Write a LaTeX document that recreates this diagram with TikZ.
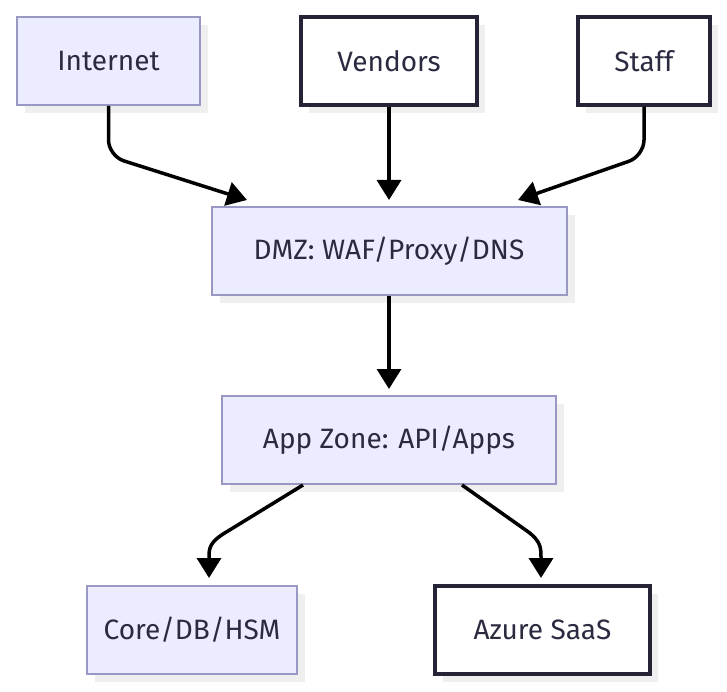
\documentclass[tikz,border=0pt]{standalone}
\usepackage{fontspec}
\setmainfont{Fira Sans}
\usetikzlibrary{arrows.meta,shadows}
\definecolor{lightfill}{HTML}{ECECFF}
\definecolor{lightstroke}{HTML}{9898C2}
\definecolor{darkstroke}{HTML}{242436}
\definecolor{shadowc}{HTML}{EFEFEF}
\definecolor{txtc}{HTML}{2A2A40}
\tikzset{
  basebox/.style={rectangle, inner sep=0pt, text=txtc, font=\fontsize{28}{33}\selectfont,
    drop shadow={shadow xshift=8pt, shadow yshift=-8pt, fill=shadowc, opacity=1}},
  lightbox/.style={basebox, draw=lightstroke, fill=lightfill, line width=2pt},
  darkbox/.style={basebox, draw=darkstroke, fill=white, line width=4pt},
  conn/.style={line width=3.5pt, black, -{Triangle[width=24pt,length=20pt]}, rounded corners=16pt},
  conncurve/.style={line width=3.5pt, black, -{Triangle[width=24pt,length=20pt]}},
}
\begin{document}
\begin{tikzpicture}[x=1pt,y=-1pt]
\useasboundingbox (0,0) rectangle (727,692);
\node[lightbox, minimum width=183pt, minimum height=88pt] (inet) at (108.5,61) {Internet};
\node[darkbox, minimum width=176pt, minimum height=88pt] (vend) at (389,61) {Vendors};
\node[darkbox, minimum width=132pt, minimum height=88pt] (staff) at (644,61) {Staff};
\node[lightbox, minimum width=355pt, minimum height=88pt] (dmz) at (389,251) {DMZ: WAF/Proxy/DNS};
\node[lightbox, minimum width=334pt, minimum height=88pt] (app) at (389,440) {App Zone: API/Apps};
\node[lightbox, minimum width=210pt, minimum height=88pt] (core) at (192,630) {Core/DB/HSM};
\node[darkbox, minimum width=215pt, minimum height=88pt] (azure) at (542.5,630) {Azure SaaS};
\coordinate (t1) at (247,200);
\coordinate (t2) at (389,200);
\coordinate (t3) at (518,200);
\coordinate (t4) at (389,389);
\coordinate (t5) at (209,578);
\coordinate (t6) at (541,578);
\draw[conn] (inet.south -| 108.5,0) -- (108.5,156) -- (t1);
\draw[conn] (vend.south) -- (t2);
\draw[conn] (staff.south) -- (644,156) -- (t3);
\draw[conn] (dmz.south) -- (t4);
\draw[conncurve] (app.south -| 303,0) -- (228,531) .. controls (209,542) and (209,548) .. (209,558) -- (t5);
\draw[conncurve] (app.south -| 462,0) -- (527,531) .. controls (541,541) and (541,548) .. (541,558) -- (t6);
\end{tikzpicture}
\end{document}
